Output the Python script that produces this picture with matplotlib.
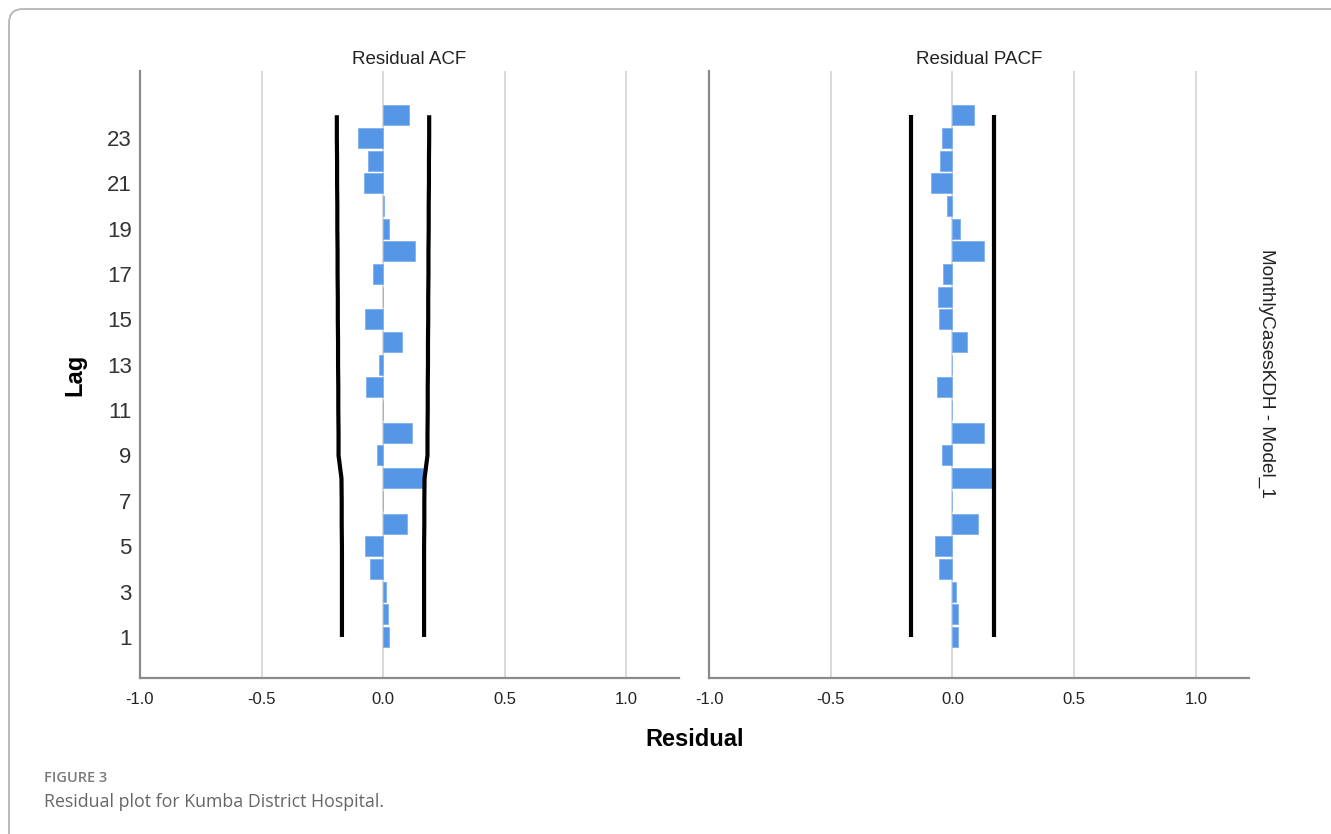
import numpy as np
import matplotlib
matplotlib.use('Agg')
import matplotlib.pyplot as plt
from matplotlib.patches import FancyBboxPatch

# 잔차 ACF / PACF 값 (lag 1..24)
lags = list(range(1, 25))
acf_vals = [0.023, 0.021, 0.013, -0.055, -0.074, 0.098, 0.0, 0.165, -0.023, 0.118,
            0.0, -0.071, -0.018, 0.080, -0.075, 0.0, -0.040, 0.130, 0.026, 0.003,
            -0.078, -0.063, -0.103, 0.107]
pacf_vals = [0.023, 0.022, 0.014, -0.055, -0.072, 0.105, 0.0, 0.165, -0.044, 0.130,
             0.0, -0.065, 0.0, 0.060, -0.055, -0.059, -0.039, 0.130, 0.033, -0.021,
             -0.089, -0.052, -0.043, 0.089]

# 신뢰구간 (상한, 하한은 대칭)
acf_conf = [0.169, 0.169, 0.169, 0.169, 0.169, 0.170, 0.170, 0.171, 0.183, 0.183,
            0.184, 0.184, 0.185, 0.185, 0.186, 0.186, 0.187, 0.187, 0.188, 0.188,
            0.189, 0.189, 0.190, 0.190]
pacf_conf = [0.170] * 24

ytick_lags = list(range(1, 24, 2))
xticks = [-1.0, -0.5, 0.0, 0.5, 1.0]

BAR = '#5596e6'
SPINE = '#8a8a8a'
GRID = '#cfcfcf'
FONT = 'Liberation Sans'

W, H = 1331, 834
fig = plt.figure(figsize=(W / 100, H / 100), dpi=100)

# 바깥 테두리 (둥근 모서리)
bg = fig.add_axes([0, 0, 1, 1])
bg.set_xlim(0, W)
bg.set_ylim(H, 0)
bg.axis('off')
bg.add_patch(FancyBboxPatch((9, 9), W + 40, H + 40,
                            boxstyle='round,pad=0,rounding_size=14',
                            fc='none', ec='#b5b5b5', lw=1.3))


def px_axes(x0, x1, y0, y1):
    return fig.add_axes([x0 / W, 1 - y1 / H, (x1 - x0) / W, (y1 - y0) / H])


def draw_panel(ax, vals, conf, title, show_y):
    ax.barh(lags, vals, height=0.88, color=BAR, edgecolor='#7fb0ee', lw=0.6, zorder=3)
    ax.plot(conf, lags, color='black', lw=3, zorder=4, solid_capstyle='butt')
    ax.plot([-c for c in conf], lags, color='black', lw=3, zorder=4, solid_capstyle='butt')
    ax.set_xlim(-1.0, 1.218)
    ax.set_ylim(-0.81, 25.95)
    ax.set_xticks(xticks)
    ax.set_xticklabels(['%.1f' % v for v in xticks], fontsize=12, family=FONT,
                       color='#222222')
    for v in xticks[1:]:
        ax.axvline(v, color=GRID, lw=1.1, zorder=1)
    ax.set_yticks(ytick_lags)
    if show_y:
        ax.set_yticklabels([str(v) for v in ytick_lags], fontsize=16, family=FONT,
                           color='#333333')
    else:
        ax.set_yticklabels([])
    ax.tick_params(length=0, pad=6)
    ax.tick_params(axis='x', pad=10)
    for s in ['top', 'right']:
        ax.spines[s].set_visible(False)
    for s in ['left', 'bottom']:
        ax.spines[s].set_color(SPINE)
        ax.spines[s].set_linewidth(1.6)
    ax.set_title(title, fontsize=13.5, family=FONT, pad=5, color='#222222')


ax1 = px_axes(140, 679, 71, 678)
ax2 = px_axes(709, 1249, 71, 678)
draw_panel(ax1, acf_vals, acf_conf, 'Residual ACF', True)
draw_panel(ax2, pacf_vals, pacf_conf, 'Residual PACF', False)

fig.text(75 / W, 1 - 375 / H, 'Lag', rotation=90, ha='center', va='center',
         fontsize=17, fontweight='bold', family=FONT)
fig.text(695 / W, 1 - 739 / H, 'Residual', ha='center', va='center',
         fontsize=17, fontweight='bold', family=FONT)
fig.text(1267 / W, 1 - 373 / H, 'MonthlyCasesKDH - Model_1', rotation=270,
         ha='center', va='center', fontsize=13.7, family=FONT, color='#222222')

# 캡션
fig.text(44 / W, 1 - 778 / H, 'FIGURE 3', ha='left', va='center', fontsize=10.5,
         family='Open Sans', fontweight='semibold', color='#7a7a7a')
fig.text(44 / W, 1 - 802 / H, 'Residual plot for Kumba District Hospital.', ha='left',
         va='center', fontsize=12.8, family='Open Sans', color='#666666')

fig.savefig('out.png', dpi=100)
